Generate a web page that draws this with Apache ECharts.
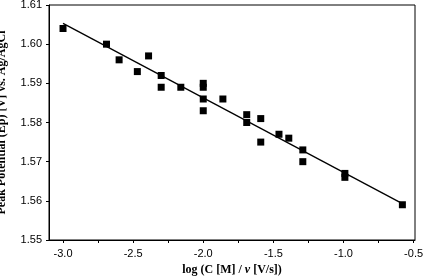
<!DOCTYPE html>
<html>
<head>
<meta charset="utf-8">
<script src="https://cdn.jsdelivr.net/npm/echarts@6/dist/echarts.min.js"></script>
<style>
  html, body { margin: 0; padding: 0; background: #fff; }
  #chart { width: 425px; height: 279px; }
</style>
</head>
<body>
<div id="chart"></div>
<script>
// measured points: log(C/v) vs peak potential
const logCv = [-3.0, -2.69, -2.6, -2.47, -2.39, -2.3, -2.3, -2.16, -2.0, -2.0, -2.0, -2.0,
  -1.86, -1.69, -1.69, -1.59, -1.59, -1.46, -1.39, -1.29, -1.29, -0.99, -0.99, -0.58];
const peakPot = [1.604, 1.600, 1.596, 1.593, 1.597, 1.592, 1.589, 1.589, 1.590, 1.589, 1.586, 1.583,
  1.586, 1.582, 1.580, 1.581, 1.575, 1.577, 1.576, 1.573, 1.570, 1.567, 1.566, 1.559];
// fitted line end points
const fitX = [-3.0, -0.58];
const fitY = [1.6053, 1.5593];
const xLabels = [-3.0, -2.5, -2.0, -1.5, -1.0, -0.5];
const xTicks = [-3.0, -2.75, -2.5, -2.25, -2.0, -1.75, -1.5, -1.25, -1.0, -0.75, -0.5];

const chart = echarts.init(document.getElementById('chart'));
chart.setOption({
  animation: false,
  grid: {
    left: 49, right: 10, top: 5, bottom: 39,
    outerBoundsMode: 'none',
    show: true, borderColor: '#000', borderWidth: 1, backgroundColor: 'transparent'
  },
  xAxis: {
    type: 'value', min: -3.1, max: -0.49,
    name: 'log (C [M] / {i|v} [V/s])',
    nameLocation: 'middle', nameGap: 24,
    nameTextStyle: {
      fontFamily: 'Liberation Serif', fontWeight: 'bold', fontSize: 12, color: '#000',
      rich: { i: { fontFamily: 'Liberation Serif', fontWeight: 'bold', fontStyle: 'italic', fontSize: 12, color: '#000' } }
    },
    axisLine: { lineStyle: { color: '#000' } },
    axisTick: { length: 3, inside: false, customValues: xTicks, lineStyle: { color: '#000' } },
    axisLabel: {
      customValues: xLabels, margin: 8,
      fontFamily: 'Liberation Sans', fontSize: 11, color: '#000',
      formatter: v => v.toFixed(1)
    },
    splitLine: { show: false }
  },
  yAxis: {
    type: 'value', min: 1.55, max: 1.61, interval: 0.01,
    name: 'Peak Potential (Ep) [V] vs. Ag/AgCl',
    nameLocation: 'middle', nameGap: 41,
    nameTextStyle: { fontFamily: 'Liberation Serif', fontWeight: 'bold', fontSize: 12, color: '#000' },
    axisLine: { lineStyle: { color: '#000' } },
    axisTick: { length: 3, lineStyle: { color: '#000' } },
    axisLabel: {
      margin: 7, fontFamily: 'Liberation Sans', fontSize: 11, color: '#000',
      formatter: v => v.toFixed(2)
    },
    splitLine: { show: false }
  },
  series: [
    {
      type: 'line',
      data: fitX.map((x, i) => [x, fitY[i]]),
      symbol: 'none',
      lineStyle: { color: '#000', width: 1.3 },
      z: 2
    },
    {
      type: 'scatter',
      data: logCv.map((x, i) => [x, peakPot[i]]),
      symbol: 'rect', symbolSize: 7,
      itemStyle: { color: '#000', opacity: 1 },
      z: 3
    }
  ]
});
</script>
</body>
</html>
